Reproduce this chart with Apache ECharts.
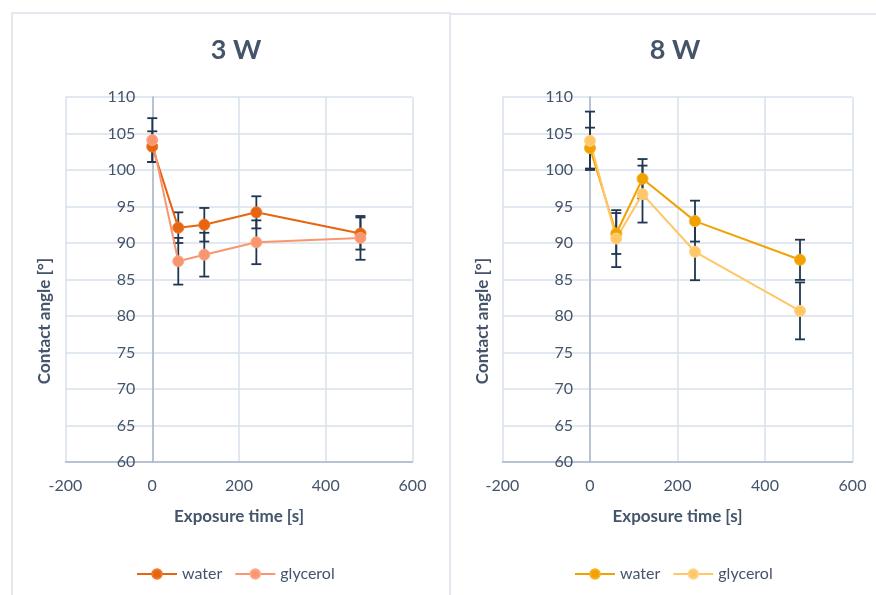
<!DOCTYPE html>
<html><head><meta charset="utf-8">
<script src="https://cdn.jsdelivr.net/npm/echarts@6/dist/echarts.min.js"></script>
<style>html,body{margin:0;padding:0;background:#fff}#c{width:876px;height:595px}</style>
</head><body><div id="c"></div>
<script>
// exposure times [s]
const times = [0, 60, 120, 240, 480];
// 3 W panel
const w3Water = [103.2, 92.1, 92.5, 94.2, 91.3];
const w3WaterErr = [2.1, 2.1, 2.3, 2.2, 2.2];
const w3Gly = [104.1, 87.5, 88.4, 90.1, 90.7];
const w3GlyErr = [3.0, 3.2, 3.0, 3.0, 3.0];
// 8 W panel
const w8Water = [103.0, 91.3, 98.8, 93.0, 87.7];
const w8WaterErr = [2.8, 2.8, 2.7, 2.8, 2.75];
const w8Gly = [104.0, 90.6, 96.7, 88.8, 80.7];
const w8GlyErr = [4.0, 3.9, 3.9, 3.9, 3.9];
const panelTitles = ['3 W', '8 W'];
const seriesNames = ['water', 'glycerol'];
const xName = 'Exposure time [s]';
const yName = 'Contact angle [°]';

const FONT = 'Lato, "Open Sans", sans-serif';
const TXT = '#44546A';
const GRID = '#D9E0EA';
const AXIS = '#A9B7CA';
const ERR = '#1F3550';

const XMIN = -200, XMAX = 600;
const grids = [
  { left: 65.5, right: 463.5, top: 97, height: 365 },
  { left: 502.5, right: 23.5, top: 97, height: 365 }
];
const gridWidth = (g) => 876 - g.left - g.right;

const pts = (vals) => times.map((t, i) => [t, vals[i]]);
const errData = (vals, errs) => times.map((t, i) => [t, vals[i], errs[i]]);

function errSeries(idx, vals, errs) {
  return {
    type: 'custom', xAxisIndex: idx, yAxisIndex: idx, z: 1, silent: true,
    data: errData(vals, errs),
    renderItem: function (params, api) {
      const x = api.value(0), y = api.value(1), e = api.value(2);
      const top = api.coord([x, y + e]);
      const bot = api.coord([x, y - e]);
      const hw = 5;
      const st = { stroke: ERR, lineWidth: 1.8 };
      return { type: 'group', children: [
        { type: 'line', shape: { x1: top[0], y1: top[1], x2: bot[0], y2: bot[1] }, style: st },
        { type: 'line', shape: { x1: top[0] - hw, y1: top[1], x2: top[0] + hw, y2: top[1] }, style: st },
        { type: 'line', shape: { x1: bot[0] - hw, y1: bot[1], x2: bot[0] + hw, y2: bot[1] }, style: st }
      ]};
    }
  };
}
function lineSeries(idx, name, vals, color, border) {
  return {
    type: 'line', name: name, xAxisIndex: idx, yAxisIndex: idx, z: 3,
    data: pts(vals), symbol: 'circle', symbolSize: 11,
    lineStyle: { color: color, width: 2 },
    itemStyle: { color: color, borderColor: border, borderWidth: 1 },
    emphasis: { disabled: true }
  };
}
function xAx(idx) {
  return {
    type: 'value', gridIndex: idx, min: XMIN, max: XMAX, interval: 200,
    axisLine: { show: true, onZero: false, lineStyle: { color: AXIS, width: 1.5 } },
    axisTick: { show: false },
    axisLabel: { color: TXT, fontFamily: FONT, fontSize: 16, margin: 16 },
    splitLine: { show: true, lineStyle: { color: GRID, width: 1.5 } },
    name: xName, nameLocation: 'middle', nameGap: 46,
    nameTextStyle: { color: TXT, fontFamily: FONT, fontSize: 17, fontWeight: 'bold' }
  };
}
function yAx(idx) {
  // place the vertical axis at x = 0
  const off = -gridWidth(grids[idx]) * (0 - XMIN) / (XMAX - XMIN);
  return {
    type: 'value', gridIndex: idx, min: 60, max: 110, interval: 5,
    offset: off,
    axisLine: { show: true, onZero: false, lineStyle: { color: AXIS, width: 1.5 } },
    axisTick: { show: false },
    axisLabel: { color: TXT, fontFamily: FONT, fontSize: 16, margin: 17 },
    splitLine: { show: true, lineStyle: { color: GRID, width: 1.5 } }
  };
}

const legendCommon = { top: 561, itemWidth: 40, itemHeight: 12, itemGap: 12, selectedMode: false,
  textStyle: { color: TXT, fontFamily: FONT, fontSize: 16 }, formatter: n => n.trim() };

const chart = echarts.init(document.getElementById('c'), null, { renderer: 'canvas' });
chart.setOption({
  animation: false,
  backgroundColor: '#fff',
  title: [
    { text: panelTitles[0], left: 231, top: 32, textAlign: 'center',
      textStyle: { color: TXT, fontFamily: FONT, fontSize: 27, fontWeight: 'bold' } },
    { text: panelTitles[1], left: 670, top: 32, textAlign: 'center',
      textStyle: { color: TXT, fontFamily: FONT, fontSize: 27, fontWeight: 'bold' } }
  ],
  grid: grids,
  xAxis: [xAx(0), xAx(1)],
  yAxis: [yAx(0), yAx(1)],
  legend: [
    Object.assign({ data: seriesNames.slice(), left: 131 }, legendCommon),
    Object.assign({ data: seriesNames.map(n => n + ' '), left: 569 }, legendCommon)
  ],
  series: [
    errSeries(0, w3Water, w3WaterErr),
    errSeries(0, w3Gly, w3GlyErr),
    lineSeries(0, seriesNames[0], w3Water, '#E8650F', '#EE7A30'),
    lineSeries(0, seriesNames[1], w3Gly, '#F9966F', '#FBAA8A'),
    errSeries(1, w8Water, w8WaterErr),
    errSeries(1, w8Gly, w8GlyErr),
    lineSeries(1, seriesNames[0] + ' ', w8Water, '#F2A200', '#F5B12A'),
    lineSeries(1, seriesNames[1] + ' ', w8Gly, '#FFC766', '#FFD48A')
  ],
  graphic: [
    { type: 'rect', shape: { x: 12, y: 13, width: 438, height: 600 }, style: { fill: 'none', stroke: '#DCE2EA', lineWidth: 1.5 }, z: -1 },
    { type: 'line', shape: { x1: 450, y1: 14, x2: 876, y2: 14 }, style: { stroke: '#DCE2EA', lineWidth: 1.5 }, z: -1 },
    { type: 'text', x: 45, y: 321, rotation: Math.PI / 2, style: { text: yName, fill: TXT, font: 'bold 17px ' + FONT, align: 'center', verticalAlign: 'middle' } },
    { type: 'text', x: 483, y: 321, rotation: Math.PI / 2, style: { text: yName, fill: TXT, font: 'bold 17px ' + FONT, align: 'center', verticalAlign: 'middle' } }
  ]
});
</script></body></html>
